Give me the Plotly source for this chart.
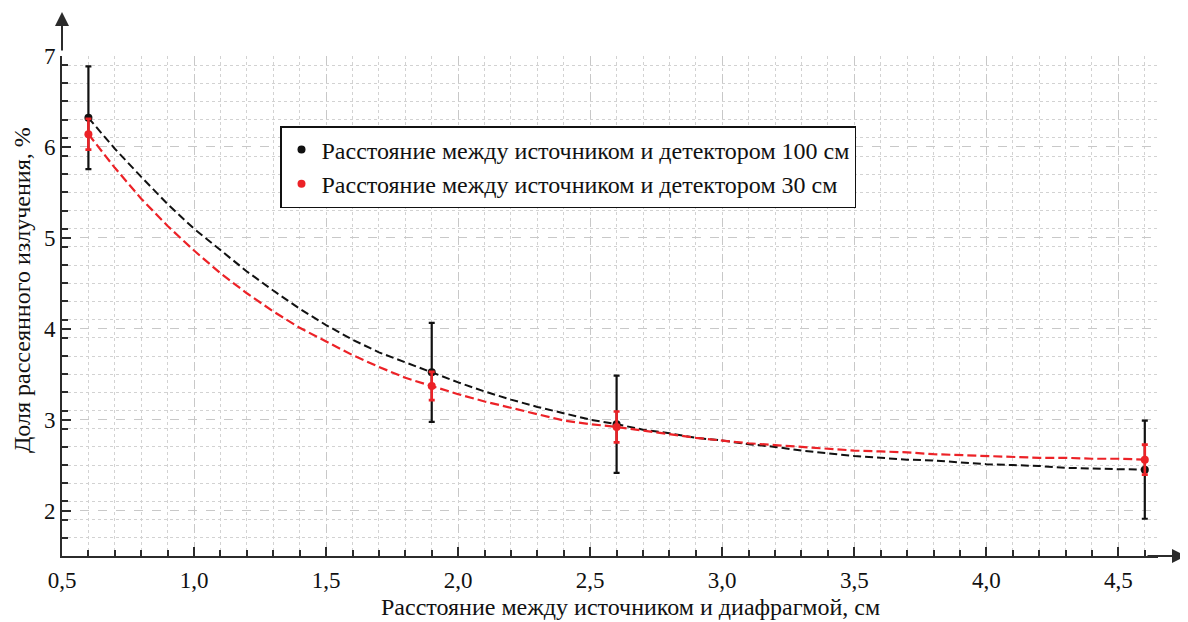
import plotly.graph_objects as go

# Measured points
x_pts = [0.6, 1.9, 2.6, 4.6]
black_pts = [6.32, 3.52, 2.95, 2.45]
black_err = [0.565, 0.545, 0.535, 0.54]
red_pts = [6.14, 3.37, 2.92, 2.56]
red_err = [0.17, 0.155, 0.17, 0.165]

# Fitted curves
x_curve = [0.6, 0.7, 0.8, 0.9, 1.0, 1.1, 1.2, 1.3, 1.4, 1.5, 1.6, 1.7, 1.8, 1.9, 2.0,
           2.1, 2.2, 2.3, 2.4, 2.5, 2.6, 2.7, 2.8, 2.9, 3.0, 3.1, 3.2, 3.3, 3.4, 3.5,
           3.6, 3.7, 3.8, 3.9, 4.0, 4.1, 4.2, 4.3, 4.4, 4.5, 4.6]
black_curve = [6.32, 5.98, 5.67, 5.37, 5.10, 4.86, 4.63, 4.42, 4.22, 4.04, 3.88, 3.74,
               3.63, 3.52, 3.41, 3.31, 3.22, 3.14, 3.07, 3.00, 2.95, 2.89, 2.85, 2.80,
               2.77, 2.73, 2.70, 2.66, 2.63, 2.60, 2.58, 2.56, 2.55, 2.53, 2.51, 2.50,
               2.49, 2.47, 2.46, 2.455, 2.45]
red_curve = [6.14, 5.77, 5.43, 5.13, 4.86, 4.61, 4.39, 4.19, 4.01, 3.86, 3.71, 3.58,
             3.46, 3.37, 3.28, 3.20, 3.13, 3.06, 2.99, 2.95, 2.92, 2.88, 2.84, 2.80,
             2.77, 2.74, 2.72, 2.70, 2.68, 2.66, 2.65, 2.64, 2.62, 2.61, 2.60, 2.59,
             2.58, 2.58, 2.57, 2.57, 2.56]

x_ticks = [0.5, 1.0, 1.5, 2.0, 2.5, 3.0, 3.5, 4.0, 4.5]
x_tick_text = ["0,5", "1,0", "1,5", "2,0", "2,5", "3,0", "3,5", "4,0", "4,5"]
y_ticks = [2, 3, 4, 5, 6, 7]

series_names = ["Расстояние между источником и детектором 100 см",
                "Расстояние между источником и детектором 30 см"]
x_title = "Расстояние между источником и диафрагмой, см"
y_title = "Доля рассеянного излучения, %"

BLACK = "#111111"
RED = "#ec2227"
FONT = "Liberation Serif"

fig = go.Figure()
fig.add_trace(go.Scatter(x=x_curve, y=black_curve, mode="lines", showlegend=False,
                         line=dict(color=BLACK, width=2, dash="8px,4px"), hoverinfo="skip"))
fig.add_trace(go.Scatter(x=x_curve, y=red_curve, mode="lines", showlegend=False,
                         line=dict(color=RED, width=2.2, dash="9px,4px"), hoverinfo="skip"))
fig.add_trace(go.Scatter(x=x_pts, y=black_pts, mode="markers", name=series_names[0],
                         marker=dict(color=BLACK, size=8),
                         error_y=dict(type="data", array=black_err, color=BLACK,
                                      thickness=2.2, width=3)))
fig.add_trace(go.Scatter(x=x_pts, y=red_pts, mode="markers", name=series_names[1],
                         marker=dict(color=RED, size=8),
                         error_y=dict(type="data", array=red_err, color=RED,
                                      thickness=2.6, width=3)))

axis_color = "#2b2b2b"
fig.update_xaxes(range=[0.5, 4.65], tickvals=x_ticks, ticktext=x_tick_text,
                 showline=True, linecolor=axis_color, linewidth=2,
                 ticks="inside", ticklen=9, tickwidth=2, tickcolor=axis_color,
                 showgrid=True, gridcolor="#c8c8c8", griddash="dash", gridwidth=1,
                 zeroline=False, ticklabelstandoff=2,
                 tickfont=dict(family=FONT, size=23, color="#111"),
                 minor=dict(dtick=0.1, tick0=0.5, ticks="inside", ticklen=6, tickwidth=1.6,
                            tickcolor=axis_color, showgrid=True, gridcolor="#d2d2d2",
                            griddash="dot", gridwidth=1))
fig.update_yaxes(range=[1.5, 7.0], tickvals=y_ticks,
                 showline=True, linecolor=axis_color, linewidth=2,
                 ticks="inside", ticklen=9, tickwidth=2, tickcolor=axis_color,
                 showgrid=True, gridcolor="#c8c8c8", griddash="dash", gridwidth=1,
                 zeroline=False, ticklabelstandoff=0,
                 tickfont=dict(family=FONT, size=23, color="#111"),
                 minor=dict(dtick=0.2, tick0=1.5, ticks="inside", ticklen=6, tickwidth=1.6,
                            tickcolor=axis_color, showgrid=True, gridcolor="#d2d2d2",
                            griddash="dot", gridwidth=1))

PW = 1096.0
annotations = [
    dict(text=x_title, xref="paper", yref="paper", x=(630 - 62) / PW, y=-0.102,
         showarrow=False, xanchor="center", yanchor="middle",
         font=dict(family=FONT, size=24, color="#111")),
    dict(text=y_title, xref="paper", yref="paper", x=(22 - 62) / PW, y=0.532, textangle=-90,
         showarrow=False, xanchor="center", yanchor="middle",
         font=dict(family=FONT, size=24, color="#111")),
    # axis arrows
    dict(text="", xref="paper", yref="paper", x=(1186 - 62) / PW, y=0, ax=-40, ay=0,
         showarrow=True, arrowhead=2, arrowsize=1.4, arrowwidth=2, arrowcolor=axis_color),
    dict(text="", xref="paper", yref="paper", x=0, y=1.088, ax=0, ay=40,
         showarrow=True, arrowhead=2, arrowsize=1.4, arrowwidth=2, arrowcolor=axis_color),
]

# the page adds an 8 px body margin; the figure is sized to fit the 1188x622 window
fig.update_layout(
    width=1180, height=614,
    margin=dict(l=54, r=30, t=48, b=66),
    plot_bgcolor="white", paper_bgcolor="white",
    font=dict(family=FONT, size=21, color="#111"),
    annotations=annotations,
    legend=dict(x=(280 - 62) / PW, y=0.86, xanchor="left", yanchor="top",
                bgcolor="white", bordercolor="#111", borderwidth=1.5,
                font=dict(family=FONT, size=24, color="#111"),
                itemwidth=30, tracegroupgap=0),
)

fig.write_html("out.html")
